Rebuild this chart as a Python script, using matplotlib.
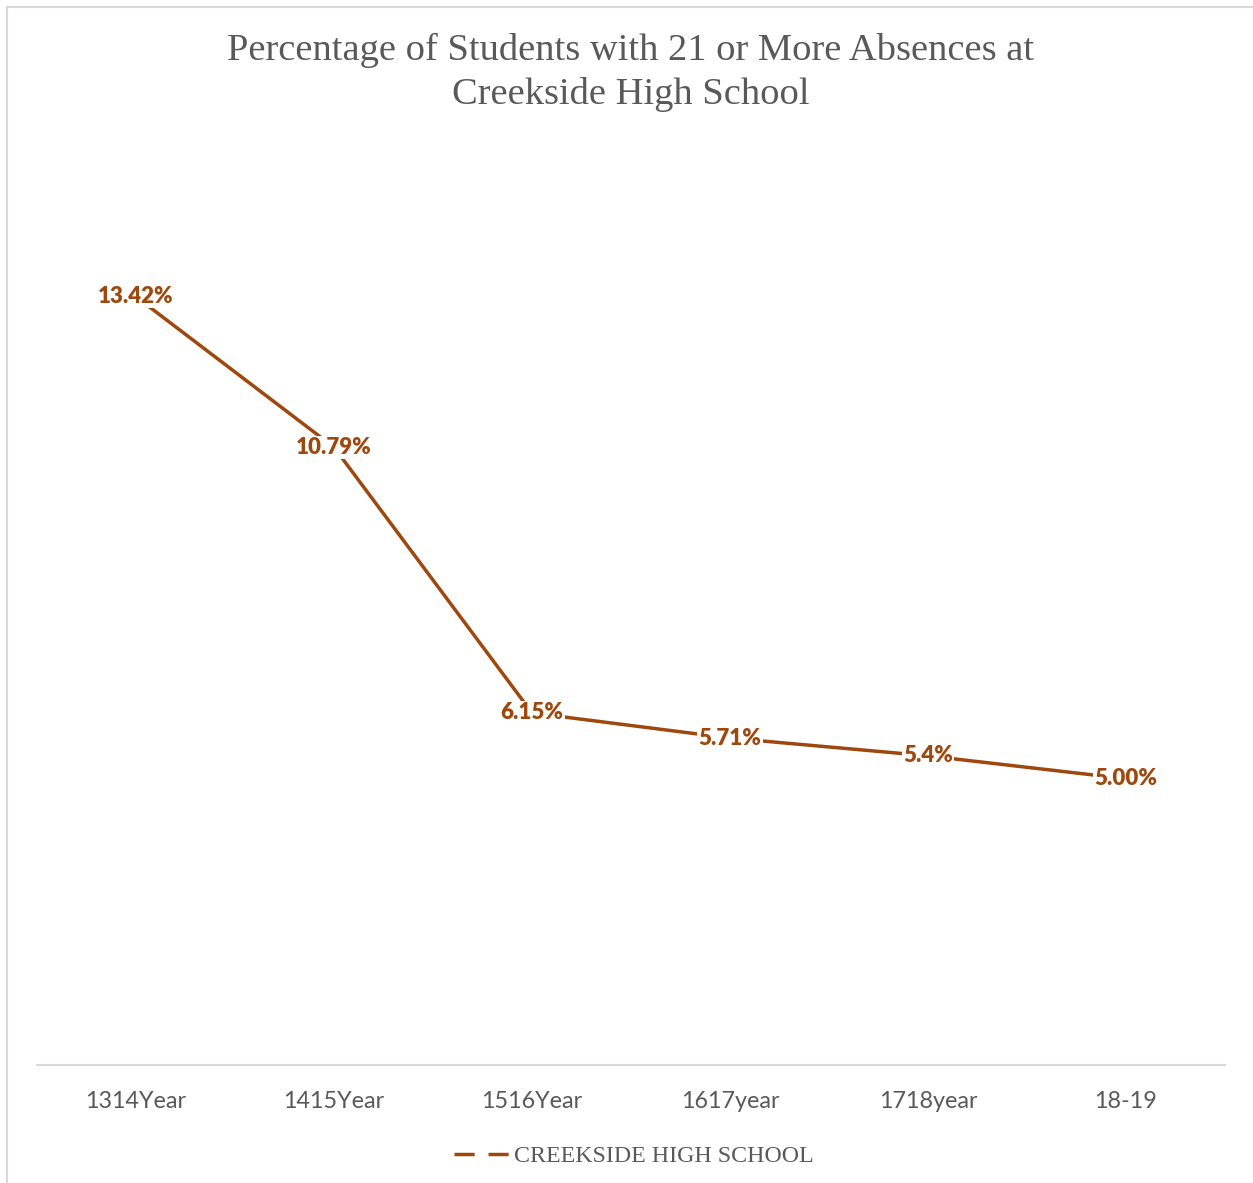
import matplotlib
matplotlib.use('Agg')
import matplotlib.pyplot as plt
from matplotlib.lines import Line2D
from matplotlib.patches import Rectangle

# absence rates per school year
years = ['1314Year', '1415Year', '1516Year', '1617year', '1718year', '18-19']
rates = [13.42, 10.79, 6.15, 5.71, 5.4, 5.00]
rate_labels = ['13.42%', '10.79%', '6.15%', '5.71%', '5.4%', '5.00%']

line_color = '#9E480E'
text_gray = '#595959'
W, H = 1253, 1183

fig = plt.figure(figsize=(W / 100, H / 100), dpi=100)

# light chart-area border
fig.patches.append(Rectangle((7 / W, -0.1), 1.2, 1.1 - 7 / H,
                             transform=fig.transFigure, fill=False,
                             edgecolor='#d9d9d9', linewidth=1.5))

ax = fig.add_axes([37 / W, (H - 1065) / H, (1225 - 37) / W, 916 / H])
x = list(range(len(years)))
ax.plot(x, rates, color=line_color, linewidth=2.5, solid_capstyle='butt', zorder=2)

for xi, yi, lab in zip(x, rates, rate_labels):
    ax.text(xi, yi, lab, ha='center', va='center', fontsize=16,
            fontweight='heavy', family='Lato', color=line_color, zorder=3,
            bbox=dict(boxstyle='square,pad=0.05', facecolor='white',
                      edgecolor='none'))

ax.set_xlim(-0.5, len(years) - 0.5)
ax.set_ylim(0, 16)
ax.set_xticks(x)
ax.set_xticklabels(years, family='Lato', fontsize=16.8, color=text_gray)
ax.tick_params(axis='x', length=0, pad=19)
ax.set_yticks([])
for side in ['left', 'right', 'top']:
    ax.spines[side].set_visible(False)
ax.spines['bottom'].set_color('#d9d9d9')
ax.spines['bottom'].set_linewidth(1.5)

fig.text(631 / W, 1 - 33 / H,
         'Percentage of Students with 21 or More Absences at\nCreekside High School',
         ha='center', va='top', fontsize=27.7, family='Liberation Serif',
         color=text_gray, linespacing=1.33)

handle = Line2D([], [], color=line_color, linewidth=2.5, linestyle=(0, (5.8, 4.0)))
fig.legend([handle], ['CREEKSIDE HIGH SCHOOL'], loc='center',
           bbox_to_anchor=(634 / W, 1 - 1156 / H), frameon=False,
           handlelength=2.3, handletextpad=0.2,
           prop={'family': 'Liberation Serif', 'size': 17.2},
           labelcolor=text_gray)

fig.savefig('out.png', dpi=100, facecolor='white')
